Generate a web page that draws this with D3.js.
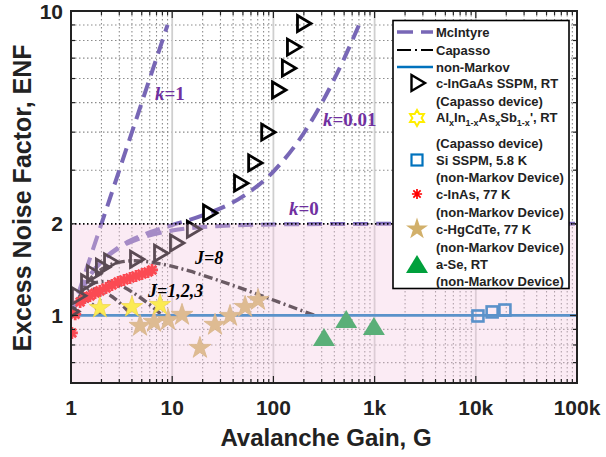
<!DOCTYPE html>
<html>
<head>
<meta charset="utf-8">
<script src="https://cdn.jsdelivr.net/npm/d3@7"></script>
<style>
  body { margin: 0; background: #fff; }
  svg { display: block; font-family: "Liberation Sans", Arial, sans-serif; }
</style>
</head>
<body>
<svg id="chart" width="606" height="457"></svg>
<script>
// ---- values ----
var xTicks = [1, 10, 100, 1000, 10000, 100000];
var xTickLabels = ["1", "10", "100", "1k", "10k", "100k"];
var yTicks = [1, 2, 10];
var yTickLabels = ["1", "2", "10"];

// McIntyre curves, [gain, ENF]
var mcK1 = [[1, 1], [9, 9]];
var mcK001 = [[1, 1], [1.5, 1.335], [2, 1.505], [3, 1.68], [5, 1.832], [10, 1.981], [20, 2.13],
              [50, 2.46], [100, 2.97], [200, 3.975], [300, 4.98], [500, 6.98], [720, 9.18]];
var mcK0 = [[1, 1], [1.5, 1.333], [2, 1.5], [3, 1.667], [5, 1.8], [10, 1.9], [30, 1.967],
            [100, 1.99], [1000, 1.999], [100000, 2]];

// Capasso staircase curves
var capJ1 = [[1, 1], [1.2, 1.111], [1.333, 1.125], [1.5, 1.111], [1.7, 1.073], [2, 1]];
var capJ2 = [[1, 1], [1.21, 1.142], [1.44, 1.204], [1.69, 1.22], [1.96, 1.21], [2.56, 1.152], [3.24, 1.077], [4, 1]];
var capJ3 = [[1, 1], [1.331, 1.203], [1.728, 1.281], [2.197, 1.293], [2.744, 1.272], [3.375, 1.235],
             [4.096, 1.189], [5.832, 1.092], [8, 1]];
var capJ8 = [[1, 1], [1.477, 1.292], [2.144, 1.436], [3.059, 1.497], [4.3, 1.512], [8.157, 1.472],
             [14.76, 1.4], [25.63, 1.32], [42.95, 1.244], [69.76, 1.174], [110.2, 1.11], [169.8, 1.052], [256, 1]];

var nonMarkov = [[1, 1], [100000, 1]];

// measured devices
var inGaAs = [[1.0, 1.03], [1.17, 1.16], [1.44, 1.28], [1.65, 1.37], [2.02, 1.44], [2.43, 1.5],
              [4.39, 1.53], [7.58, 1.6], [10.9, 1.73], [16, 1.92], [23.1, 2.17], [46.8, 2.72],
              [64.5, 3.17], [86.8, 4.0], [111, 5.5], [139, 6.49], [156, 7.61], [196, 9.1]];
var alInAsSb = [[1.93, 1.058], [4.0, 1.066], [7.58, 1.083]];
var siSSPM = [[10500, 0.996], [14500, 1.027], [19400, 1.042]];
var inAs = [[1.02, 0.876], [1.1, 1.01], [1.23, 1.107], [1.37, 1.141], [1.54, 1.159], [1.73, 1.185],
            [1.93, 1.204], [2.22, 1.231], [2.54, 1.259], [2.92, 1.288], [3.34, 1.308], [3.83, 1.327],
            [4.39, 1.348], [5.03, 1.368], [5.77, 1.389], [6.32, 1.411]];
var hgCdTe = [[4.81, 0.924], [6.62, 0.952], [9.1, 0.966], [12.5, 1.004], [18.8, 0.782],
              [26.5, 0.931], [37.3, 0.996], [52.5, 1.066], [70.5, 1.124]];
var aSe = [[316, 0.844], [524, 0.966], [984, 0.917]];

(function() {
var svg = d3.select("#chart");
var pLeft = 71, pRight = 577, pTop = 11, pBottom = 383;

var x = d3.scaleLog().domain([1, 100000]).range([pLeft, pRight]);
var y = d3.scaleLog().domain([0.6, 10]).range([pBottom, pTop]);

var purple = "#7867b6", capColor = "#1a1a1a", blue = "#0072bd";
var textColor = "#222";

svg.append("defs").append("clipPath").attr("id", "plotclip")
  .append("rect").attr("x", pLeft).attr("y", pTop).attr("width", pRight - pLeft).attr("height", pBottom - pTop);

// minor tick positions
var xMinor = [];
[1, 10, 100, 1000, 10000].forEach(function(d) {
  for (var m = 2; m <= 9; m++) xMinor.push(d * m);
});
var yMinor = [0.7, 0.8, 0.9, 3, 4, 5, 6, 7, 8, 9];

var grid = svg.append("g");
grid.selectAll(".gxm").data(xMinor).enter().append("line")
  .attr("x1", d => x(d)).attr("x2", d => x(d)).attr("y1", pTop).attr("y2", pBottom)
  .attr("stroke", "#8c8c8c").attr("stroke-width", 1.1).attr("stroke-dasharray", "1.5,2.5");
grid.selectAll(".gym").data(yMinor).enter().append("line")
  .attr("y1", d => y(d)).attr("y2", d => y(d)).attr("x1", pLeft).attr("x2", pRight)
  .attr("stroke", "#8c8c8c").attr("stroke-width", 1.1).attr("stroke-dasharray", "1.5,2.5");
grid.selectAll(".gxM").data(xTicks.slice(1, -1)).enter().append("line")
  .attr("x1", d => x(d)).attr("x2", d => x(d)).attr("y1", pTop).attr("y2", pBottom)
  .attr("stroke", "#cfcfcf").attr("stroke-width", 1.8);

var plot = svg.append("g").attr("clip-path", "url(#plotclip)");

var line = d3.line().x(d => x(d[0])).y(d => y(d[1])).curve(d3.curveMonotoneX);

// McIntyre
[mcK1, mcK001, mcK0].forEach(function(c) {
  plot.append("path").attr("d", line(c)).attr("fill", "none")
    .attr("stroke", purple).attr("stroke-width", 4).attr("stroke-dasharray", "15,8");
});
// Capasso
[capJ1, capJ2, capJ3, capJ8].forEach(function(c) {
  plot.append("path").attr("d", line(c)).attr("fill", "none")
    .attr("stroke", capColor).attr("stroke-width", 3.4).attr("stroke-dasharray", "9,3.5,2,3.5");
});
// non-Markov
plot.append("path").attr("d", line(nonMarkov)).attr("fill", "none")
  .attr("stroke", blue).attr("stroke-width", 2.8);

// markers
var triRight = "M-5.5,-8L8,0L-5.5,8Z";
var asterisk = "M-6,0H6M0,-6V6M-4.3,-4.3L4.3,4.3M-4.3,4.3L4.3,-4.3";
var star = d3.symbol().type(d3.symbolStar).size(140)();
var starL = d3.symbol().type(d3.symbolStar).size(150)();
var triUp = "M0,-10L11,8H-11Z";

function pos(d) { return "translate(" + x(d[0]) + "," + y(d[1]) + ")"; }

plot.selectAll(".ias").data(inAs).enter().append("path")
  .attr("d", asterisk).attr("transform", pos)
  .attr("stroke", "#ff0000").attr("stroke-width", 2.8).attr("fill", "none");
plot.selectAll(".hg").data(hgCdTe).enter().append("path")
  .attr("d", starL).attr("transform", pos)
  .attr("fill", "#d2b464").attr("stroke", "#c9a95a").attr("stroke-width", 0.8);
plot.selectAll(".al").data(alInAsSb).enter().append("path")
  .attr("d", star).attr("transform", pos)
  .attr("fill", "#ffff00").attr("stroke", "#eedd00").attr("stroke-width", 0.8);
plot.selectAll(".ig").data(inGaAs).enter().append("path")
  .attr("d", triRight).attr("transform", pos)
  .attr("fill", "none").attr("stroke", "#000").attr("stroke-width", 2.8);
plot.selectAll(".si").data(siSSPM).enter().append("rect")
  .attr("x", d => x(d[0]) - 5.5).attr("y", d => y(d[1]) - 5.5).attr("width", 11).attr("height", 11)
  .attr("fill", "none").attr("stroke", blue).attr("stroke-width", 2.6);
plot.selectAll(".se").data(aSe).enter().append("path")
  .attr("d", triUp).attr("transform", pos).attr("fill", "#00a03c");

// pink overlay below ENF = 2
svg.append("rect").attr("x", pLeft).attr("y", y(2)).attr("width", pRight - pLeft).attr("height", pBottom - y(2))
  .attr("fill", "rgb(245,200,225)").attr("opacity", 0.37);

// ENF = 2 boundary
svg.append("line").attr("x1", pLeft).attr("x2", pRight).attr("y1", y(2)).attr("y2", y(2))
  .attr("stroke", "#000").attr("stroke-width", 1.8).attr("stroke-dasharray", "1.5,2.5");

// curve labels
function label(tx, ty, color, size) {
  return svg.append("text").attr("x", tx).attr("y", ty)
    .attr("font-family", "'Liberation Serif', 'Times New Roman', serif")
    .attr("font-weight", "bold").attr("font-size", size).attr("fill", color);
}
var l1 = label(155, 100, "#7030a0", 19);
l1.append("tspan").attr("font-style", "italic").text("k");
l1.append("tspan").text("=1");
var l2 = label(323, 126, "#7030a0", 19);
l2.append("tspan").attr("font-style", "italic").text("k");
l2.append("tspan").text("=0.01");
var l3 = label(289, 215, "#7030a0", 19);
l3.append("tspan").attr("font-style", "italic").text("k");
l3.append("tspan").text("=0");
label(195, 264, "#000", 18).attr("font-style", "italic").text("J=8");
label(148, 297, "#000", 18).attr("font-style", "italic").text("J=1,2,3");

// legend
var lg = svg.append("g");
lg.append("rect").attr("x", 393).attr("y", 20.5).attr("width", 176).attr("height", 268)
  .attr("fill", "#fff").attr("stroke", "#000").attr("stroke-width", 1.6);

var lx0 = 397, lx1 = 433, mx = 417, tx = 436;
lg.append("line").attr("x1", lx0).attr("x2", lx1).attr("y1", 32).attr("y2", 32)
  .attr("stroke", purple).attr("stroke-width", 3.5).attr("stroke-dasharray", "16,8");
lg.append("line").attr("x1", lx0).attr("x2", lx1).attr("y1", 50).attr("y2", 50)
  .attr("stroke", "#000").attr("stroke-width", 2.2).attr("stroke-dasharray", "14,4,2,4");
lg.append("line").attr("x1", lx0).attr("x2", lx1).attr("y1", 67).attr("y2", 67)
  .attr("stroke", blue).attr("stroke-width", 2.4);

lg.append("path").attr("d", triRight).attr("transform", "translate(" + mx + ",83)")
  .attr("fill", "none").attr("stroke", "#000").attr("stroke-width", 2.4);
// hexagram marker
var hex = [];
for (var i = 0; i < 12; i++) {
  var a = -Math.PI / 2 + i * Math.PI / 6, r = i % 2 ? 4.6 : 8;
  hex.push([r * Math.cos(a), r * Math.sin(a)]);
}
lg.append("path").attr("d", "M" + hex.join("L") + "Z").attr("transform", "translate(" + mx + ",118)")
  .attr("fill", "none").attr("stroke", "#ffee00").attr("stroke-width", 2);
lg.append("rect").attr("x", mx - 5.5).attr("y", 154.5).attr("width", 11).attr("height", 11)
  .attr("fill", "none").attr("stroke", blue).attr("stroke-width", 2.2);
lg.append("path").attr("d", asterisk).attr("transform", "translate(" + mx + ",194) scale(0.85)")
  .attr("stroke", "#ff0000").attr("stroke-width", 2).attr("fill", "none");
lg.append("path").attr("d", starL).attr("transform", "translate(" + mx + ",229)").attr("fill", "#d2b06a");
lg.append("path").attr("d", triUp).attr("transform", "translate(" + mx + ",265)").attr("fill", "#00a03c");

function ltext(ty) {
  return lg.append("text").attr("x", tx).attr("y", ty).attr("font-size", 13)
    .attr("font-weight", "bold").attr("fill", textColor);
}
ltext(37).text("McIntyre");
ltext(55).text("Capasso");
ltext(72).text("non-Markov");
ltext(88).text("c-InGaAs SSPM, RT");
ltext(106).text("(Capasso device)");
var al = ltext(122);
var prevSub = false;
[["Al", 0], ["x", 1], ["In", 0], ["1-x", 1], ["As", 0], ["x", 1], ["Sb", 0], ["1-x", 1], ["', RT", 0]]
  .forEach(function(p) {
    var s = al.append("tspan").text(p[0]);
    if (p[1]) s.attr("font-size", 9).attr("dy", 4);
    else if (prevSub) s.attr("dy", -4);
    prevSub = !!p[1];
  });
ltext(148).text("(Capasso device)");
ltext(165).text("Si SSPM, 5.8 K");
ltext(182).text("(non-Markov Device)");
ltext(199).text("c-InAs, 77 K");
ltext(217).text("(non-Markov Device)");
ltext(234).text("c-HgCdTe, 77 K");
ltext(252).text("(non-Markov Device)");
ltext(269).text("a-Se, RT");
ltext(286).text("(non-Markov Device)");

// axes box and ticks
var ax = svg.append("g").attr("stroke", "#222").attr("stroke-width", 1.2);
xMinor.forEach(function(d) {
  ax.append("line").attr("x1", x(d)).attr("x2", x(d)).attr("y1", pBottom).attr("y2", pBottom - 4);
  ax.append("line").attr("x1", x(d)).attr("x2", x(d)).attr("y1", pTop).attr("y2", pTop + 4);
});
xTicks.forEach(function(d) {
  ax.append("line").attr("x1", x(d)).attr("x2", x(d)).attr("y1", pBottom).attr("y2", pBottom - 7);
  ax.append("line").attr("x1", x(d)).attr("x2", x(d)).attr("y1", pTop).attr("y2", pTop + 7);
});
yMinor.concat([2]).forEach(function(d) {
  ax.append("line").attr("y1", y(d)).attr("y2", y(d)).attr("x1", pLeft).attr("x2", pLeft + 4);
  ax.append("line").attr("y1", y(d)).attr("y2", y(d)).attr("x1", pRight).attr("x2", pRight - 4);
});
[1, 10].forEach(function(d) {
  ax.append("line").attr("y1", y(d)).attr("y2", y(d)).attr("x1", pLeft).attr("x2", pLeft + 7);
  ax.append("line").attr("y1", y(d)).attr("y2", y(d)).attr("x1", pRight).attr("x2", pRight - 7);
});
svg.append("rect").attr("x", pLeft).attr("y", pTop).attr("width", pRight - pLeft).attr("height", pBottom - pTop)
  .attr("fill", "none").attr("stroke", "#222").attr("stroke-width", 2);

// tick labels
svg.selectAll(".xl").data(xTicks).enter().append("text")
  .attr("x", d => x(d)).attr("y", 415).attr("text-anchor", "middle")
  .attr("font-size", 21).attr("font-weight", "bold").attr("fill", textColor)
  .text((d, i) => xTickLabels[i]);
svg.selectAll(".yl").data(yTicks).enter().append("text")
  .attr("x", 63).attr("y", d => y(d) + 7.5).attr("text-anchor", "end")
  .attr("font-size", 21).attr("font-weight", "bold").attr("fill", textColor)
  .text((d, i) => yTickLabels[i]);

// axis titles
svg.append("text").attr("x", 326).attr("y", 446).attr("text-anchor", "middle")
  .attr("font-size", 24).attr("font-weight", "bold").attr("fill", textColor)
  .text("Avalanche Gain, G");
svg.append("text").attr("transform", "translate(31,198) rotate(-90)").attr("text-anchor", "middle")
  .attr("font-size", 25).attr("font-weight", "bold").attr("fill", textColor)
  .text("Excess Noise Factor, ENF");
})();
</script>
</body>
</html>
